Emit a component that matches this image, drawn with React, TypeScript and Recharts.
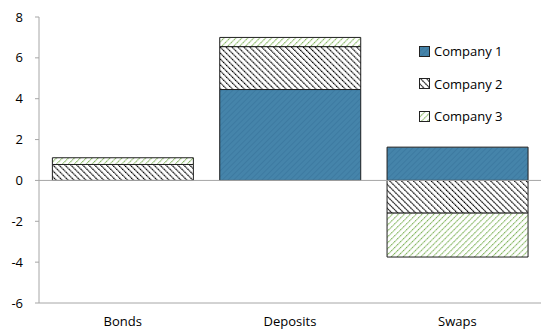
import React from "react";
import { BarChart, Bar, XAxis, YAxis, ReferenceLine } from "recharts";

const categories = ["Bonds", "Deposits", "Swaps"];
const company1 = [0, 4.45, 1.63];
const company2 = [0.78, 2.1, -1.6];
const company3 = [0.33, 0.45, -2.15];
const yTicks = [-6, -4, -2, 0, 2, 4, 6, 8];

const seriesNames = ["Company 1", "Company 2", "Company 3"];
const seriesFills = ["url(#patBlue)", "url(#patBlack)", "url(#patGreen)"];

const data = categories.map((name, i) => ({
  name,
  c1: company1[i],
  c2: company2[i],
  c3: company3[i],
}));

const FONT = "'Open Sans', 'Noto Sans', sans-serif";

function LegendBox() {
  return (
    <div style={{ position: "absolute", left: 419, top: 35, fontFamily: FONT, fontSize: 13, color: "#000" }}>
      {seriesNames.map((n, i) => (
        <div key={n} style={{ display: "flex", alignItems: "center", height: 32.5 }}>
          <svg width={11} height={11} style={{ marginRight: 4 }}>
            <rect x={0.5} y={0.5} width={10} height={10} fill={seriesFills[i]} stroke="#222" strokeWidth={1} />
          </svg>
          <span>{n}</span>
        </div>
      ))}
    </div>
  );
}

export default function App() {
  return (
    <div style={{ position: "absolute", left: 0, top: 0, width: 541, height: 333, background: "#fff" }}>
      <svg width={0} height={0} style={{ position: "absolute" }}>
        <defs>
          <pattern id="patBlue" width={4} height={4} patternUnits="userSpaceOnUse" patternTransform="rotate(45)">
            <rect width={4} height={4} fill="#4584aa" />
            <line x1={0} y1={0} x2={0} y2={4} stroke="#3a769e" strokeWidth={1.5} />
          </pattern>
          <pattern id="patBlack" width={4.2} height={4.2} patternUnits="userSpaceOnUse" patternTransform="rotate(-45)">
            <rect width={4.2} height={4.2} fill="#fff" />
            <line x1={0} y1={0} x2={0} y2={4.2} stroke="#000" strokeWidth={2.2} strokeDasharray="1.6 0.5" />
          </pattern>
          <pattern id="patGreen" width={4.2} height={4.2} patternUnits="userSpaceOnUse" patternTransform="rotate(45)">
            <rect width={4.2} height={4.2} fill="#fff" />
            <line x1={0} y1={0} x2={0} y2={4.2} stroke="#7fb45a" strokeWidth={2} strokeDasharray="1.6 0.6" />
          </pattern>
        </defs>
      </svg>
      <BarChart
        width={541}
        height={333}
        data={data}
        stackOffset="sign"
        barCategoryGap="8%"
        margin={{ top: 17, right: 0, bottom: 0, left: 0 }}
      >
        <XAxis
          dataKey="name"
          axisLine={{ stroke: "#a6a6a6" }}
          tickLine={false}
          height={30}
          tick={{ fontFamily: FONT, fontSize: 13, fill: "#000" }}
          tickMargin={8}
        />
        <YAxis
          width={39}
          domain={[-6, 8]}
          ticks={yTicks}
          interval={0}
          axisLine={{ stroke: "#a6a6a6" }}
          tickLine={{ stroke: "#a6a6a6" }}
          tickSize={4}
          tickMargin={12}
          tick={{ fontFamily: FONT, fontSize: 13, fill: "#000" }}
        />
        <ReferenceLine y={0} stroke="#a6a6a6" strokeWidth={1} />
        <Bar dataKey="c1" stackId="s" fill={seriesFills[0]} stroke="#1f1f1f" strokeWidth={1} isAnimationActive={false} />
        <Bar dataKey="c2" stackId="s" fill={seriesFills[1]} stroke="#1f1f1f" strokeWidth={1} isAnimationActive={false} />
        <Bar dataKey="c3" stackId="s" fill={seriesFills[2]} stroke="#1f1f1f" strokeWidth={1} isAnimationActive={false} />
      </BarChart>
      <LegendBox />
    </div>
  );
}
